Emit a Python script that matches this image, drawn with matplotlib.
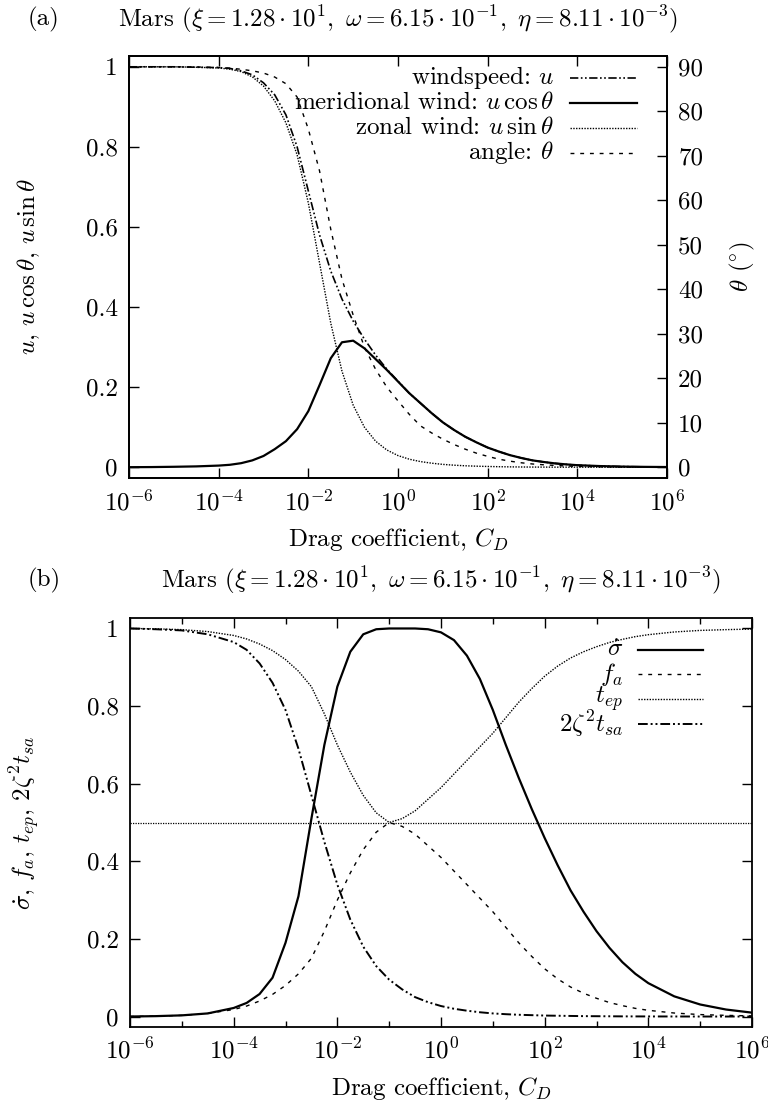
import numpy as np
import matplotlib
matplotlib.use("Agg")
import matplotlib.pyplot as plt
from matplotlib.lines import Line2D
from matplotlib.ticker import FixedLocator, NullFormatter

plt.rcParams['font.family'] = ['cmr10', 'DejaVu Serif']
plt.rcParams['mathtext.fontset'] = 'cm'
plt.rcParams['axes.unicode_minus'] = False
plt.rcParams['axes.formatter.use_mathtext'] = True

# ---------------- data ----------------
log_cd = [-6, -5.5, -5, -4.5, -4, -3.75, -3.5, -3.25, -3, -2.75, -2.5, -2.25, -2,
          -1.75, -1.5, -1.25, -1, -0.75, -0.5, -0.25, 0, 0.25, 0.5, 0.75, 1, 1.25,
          1.5, 1.75, 2, 2.25, 2.5, 2.75, 3, 3.25, 3.5, 3.75, 4, 4.5, 5, 5.5, 6]

# panel (a)
wind_u = [1, 1, 1, 0.999, 0.998, 0.996, 0.99, 0.98, 0.96, 0.93, 0.88, 0.80, 0.69,
          0.58, 0.49, 0.42, 0.365, 0.32, 0.28, 0.245, 0.215, 0.185, 0.16, 0.135,
          0.112, 0.093, 0.076, 0.062, 0.049, 0.039, 0.030, 0.023, 0.017, 0.013,
          0.0095, 0.007, 0.005, 0.0028, 0.0015, 0.0008, 0.0004]
wind_mer = [0, 0.0003, 0.001, 0.002, 0.004, 0.006, 0.01, 0.017, 0.028, 0.045, 0.065,
            0.095, 0.14, 0.205, 0.272, 0.312, 0.316, 0.297, 0.27, 0.243, 0.214, 0.185,
            0.16, 0.135, 0.112, 0.093, 0.076, 0.062, 0.049, 0.039, 0.030, 0.023,
            0.017, 0.013, 0.0095, 0.007, 0.005, 0.0028, 0.0015, 0.0008, 0.0004]
wind_zon = [1, 1, 1, 0.999, 0.997, 0.994, 0.988, 0.975, 0.952, 0.915, 0.86, 0.78,
            0.66, 0.51, 0.36, 0.24, 0.155, 0.1, 0.065, 0.043, 0.029, 0.02, 0.014,
            0.01, 0.007, 0.005, 0.0035, 0.0025, 0.0018, 0.0012, 0.0008, 0.0005,
            0.0003, 0.0002, 0.0001, 0, 0, 0, 0, 0, 0]
angle_deg = [90, 90, 90, 89.97, 89.85, 89.7, 89.45, 89.1, 88.6, 87.7, 86.2, 83.2, 76.0,
             66.6, 53.5, 42.3, 34.2, 27.0, 22.0, 18.0, 14.9, 11.9, 9.3, 7.7, 6.3, 5.1,
             4.05, 3.15, 2.43, 1.8, 1.35, 0.99, 0.72, 0.54, 0.4, 0.27, 0.18, 0.09,
             0.045, 0.02, 0.01]

# panel (b)
sigma_dot = [0, 0.001, 0.003, 0.008, 0.022, 0.035, 0.058, 0.1, 0.19, 0.31, 0.51, 0.70,
             0.85, 0.94, 0.985, 0.998, 1, 1, 1, 0.998, 0.99, 0.97, 0.93, 0.87, 0.79,
             0.70, 0.615, 0.535, 0.46, 0.39, 0.325, 0.27, 0.22, 0.177, 0.14, 0.11,
             0.086, 0.052, 0.031, 0.018, 0.01]
f_a = [0, 0.001, 0.003, 0.008, 0.018, 0.027, 0.04, 0.057, 0.08, 0.11, 0.15, 0.22,
       0.3, 0.37, 0.43, 0.475, 0.5, 0.49, 0.47, 0.44, 0.41, 0.375, 0.34, 0.305,
       0.27, 0.23, 0.19, 0.155, 0.123, 0.097, 0.076, 0.06, 0.047, 0.036, 0.028, 0.021,
       0.016, 0.009, 0.005, 0.003, 0.0015]
t_ep = [1, 0.999, 0.997, 0.992, 0.982, 0.973, 0.96, 0.943, 0.92, 0.89, 0.85, 0.78,
        0.7, 0.63, 0.57, 0.525, 0.5, 0.51, 0.53, 0.56, 0.59, 0.625, 0.66, 0.695,
        0.73, 0.77, 0.81, 0.845, 0.877, 0.903, 0.924, 0.94, 0.953, 0.964, 0.972, 0.979,
        0.984, 0.991, 0.995, 0.997, 0.9985]
zeta_tsa = [1, 0.998, 0.995, 0.985, 0.965, 0.945, 0.91, 0.86, 0.79, 0.69, 0.57, 0.45,
            0.34, 0.25, 0.18, 0.13, 0.095, 0.07, 0.05, 0.037, 0.027, 0.02, 0.015, 0.011,
            0.008, 0.006, 0.0045, 0.0035, 0.0025, 0.002, 0.0015, 0.001, 0.0008, 0.0006,
            0.0004, 0.0003, 0.0002, 0.0001, 0, 0, 0]
half_level = 0.5

xticks_major = [1e-6, 1e-4, 1e-2, 1e0, 1e2, 1e4, 1e6]
xtick_labels = [r'$10^{-6}$', r'$10^{-4}$', r'$10^{-2}$', r'$10^{0}$', r'$10^{2}$',
                r'$10^{4}$', r'$10^{6}$']
xticks_minor = [1e-5, 1e-3, 1e-1, 1e1, 1e3, 1e5]
yticks_left = [0, 0.2, 0.4, 0.6, 0.8, 1]
ytick_left_labels = ['0', '0.2', '0.4', '0.6', '0.8', '1']
yticks_right = [0, 10, 20, 30, 40, 50, 60, 70, 80, 90]

title_txt = r'Mars ($\xi = 1.28\cdot10^{1},\ \omega = 6.15\cdot10^{-1},\ \eta = 8.11\cdot10^{-3}$)'

# ---------------- figure ----------------
W, H = 768, 1104
fig = plt.figure(figsize=(W / 100, H / 100), dpi=100)
FS = 18


def ax_rect(x0, x1, y0, y1):
    return [x0 / W, 1 - y1 / H, (x1 - x0) / W, (y1 - y0) / H]


cd = [10.0 ** v for v in log_cd]
ls_dashdot = (0, (5, 1.5, 1, 1.5, 1, 1.5))
ls_dot = (0, (1, 1))
ls_dash = (0, (2.8, 4.2))
YLO, YHI = -0.027, 1.027


def style_axis(ax):
    ax.set_xscale('log')
    ax.set_xlim(1e-6, 1e6)
    ax.set_ylim(YLO, YHI)
    ax.xaxis.set_major_locator(FixedLocator(xticks_major))
    ax.xaxis.set_minor_locator(FixedLocator(xticks_minor))
    ax.xaxis.set_minor_formatter(NullFormatter())
    ax.set_xticklabels(xtick_labels)
    ax.set_yticks(yticks_left)
    ax.set_yticklabels(ytick_left_labels)
    ax.tick_params(which='major', direction='in', length=7, width=1, labelsize=FS, pad=8, top=True)
    ax.tick_params(which='minor', direction='in', length=4, width=1, top=True)
    for s in ax.spines.values():
        s.set_linewidth(1.3)
    ax.set_xlabel(r'Drag coefficient, $C_D$', fontsize=FS, labelpad=8)


def legend_rows(ax, rows, xt, xl0, xl1, y0, dy):
    for i, (label, kw) in enumerate(rows):
        y = y0 - i * dy
        ax.text(xt, y, label, transform=ax.transAxes, ha='right', va='center', fontsize=FS)
        ax.add_line(Line2D([xl0, xl1], [y, y], transform=ax.transAxes, color='black', **kw))


# ---- panel (a)
A_X0, A_X1, A_Y0, A_Y1 = 129, 667, 56, 478
axa = fig.add_axes(ax_rect(A_X0, A_X1, A_Y0, A_Y1))
style_axis(axa)
axa.tick_params(which='both', right=False)
kw_u = dict(lw=1.2, linestyle=ls_dashdot)
kw_m = dict(lw=1.6, linestyle='-')
kw_z = dict(lw=1.0, linestyle=ls_dot)
kw_t = dict(lw=1.0, linestyle=ls_dash)
axa.plot(cd, wind_u, color='black', **kw_u)
axa.plot(cd, wind_mer, color='black', **kw_m)
axa.plot(cd, wind_zon, color='black', **kw_z)
axa.set_ylabel(r'$u,\,u\,\cos\theta,\,u\,\sin\theta$', fontsize=FS)
axa.yaxis.set_label_coords((42 - A_X0) / (A_X1 - A_X0), 0.5)
axr = axa.twinx()
axr.set_xscale('log')
axr.set_xlim(1e-6, 1e6)
axr.set_ylim(YLO * 90, YHI * 90)
axr.set_yticks(yticks_right)
axr.set_yticklabels([str(v) for v in yticks_right])
axr.tick_params(direction='in', length=7, width=1, labelsize=FS, pad=8)
axr.plot(cd, angle_deg, color='black', **kw_t)
axr.set_ylabel(r'$\theta$ ($^{\circ}$)', fontsize=FS)
axr.yaxis.set_label_coords((728 - A_X0) / (A_X1 - A_X0), 0.5)
for s in axr.spines.values():
    s.set_linewidth(1.3)
legend_rows(axr, [('windspeed: $u$', kw_u), (r'meridional wind: $u\,\cos\theta$', kw_m),
                  (r'zonal wind: $u\,\sin\theta$', kw_z), (r'angle: $\theta$', kw_t)],
            0.79, 0.82, 0.945, 0.949, 0.0594)
fig.text(44 / W, 1 - 19 / H, '(a)', ha='center', va='center', fontsize=FS)
fig.text((A_X0 + A_X1) / 2 / W, 1 - 19 / H, title_txt, ha='center', va='center', fontsize=FS)

# ---- panel (b)
B_X0, B_X1, B_Y0, B_Y1 = 130, 752, 618, 1027
axb = fig.add_axes(ax_rect(B_X0, B_X1, B_Y0, B_Y1))
style_axis(axb)
axb.tick_params(which='both', right=True)
kw_s = dict(lw=1.6, linestyle='-')
kw_f = dict(lw=1.0, linestyle=ls_dash)
kw_e = dict(lw=1.0, linestyle=ls_dot)
kw_z2 = dict(lw=1.4, linestyle=ls_dashdot)
axb.plot(cd, sigma_dot, color='black', **kw_s)
axb.plot(cd, f_a, color='black', **kw_f)
axb.plot(cd, t_ep, color='black', **kw_e)
axb.plot(cd, zeta_tsa, color='black', **kw_z2)
axb.axhline(half_level, color='black', lw=0.9, linestyle=(0, (1, 1)))
axb.set_ylabel(r'$\dot{\sigma},\,f_a,\,t_{ep},\,2\zeta^2 t_{sa}$', fontsize=FS)
axb.yaxis.set_label_coords((42 - B_X0) / (B_X1 - B_X0), 0.5)
legend_rows(axb, [(r'$\dot{\sigma}$', kw_s), (r'$f_a$', kw_f), (r'$t_{ep}$', kw_e),
                  (r'$2\zeta^2 t_{sa}$', kw_z2)],
            0.793, 0.817, 0.921, 0.922, 0.06)
fig.text(44 / W, 1 - 580 / H, '(b)', ha='center', va='center', fontsize=FS)
fig.text((B_X0 + B_X1) / 2 / W, 1 - 580 / H, title_txt, ha='center', va='center', fontsize=FS)

fig.savefig('out.png', dpi=100)
